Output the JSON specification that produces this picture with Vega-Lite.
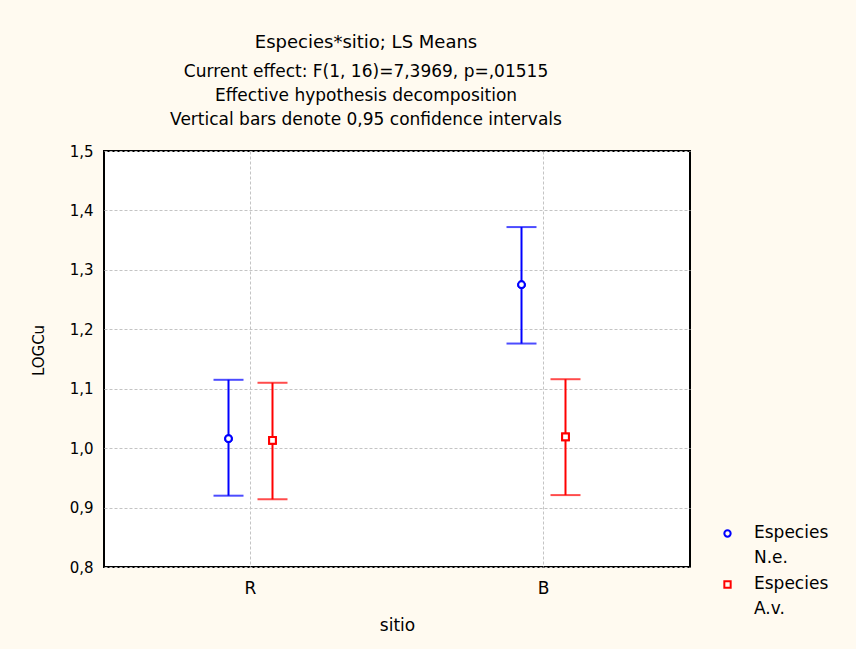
{
  "$schema": "https://vega.github.io/schema/vega-lite/v6.json",
  "width": 586,
  "height": 416,
  "autosize": {"type": "none"},
  "padding": {"left": 104, "top": 151, "right": 166, "bottom": 82},
  "background": "#FFFAF0",
  "title": {
    "text": "Especies*sitio; LS Means",
    "subtitle": ["Current effect: F(1, 16)=7,3969, p=,01515", "Effective hypothesis decomposition", "Vertical bars denote 0,95 confidence intervals"],
    "anchor": "middle",
    "frame": "group",
    "dx": -31,
    "offset": 16,
    "font": "DejaVu Sans",
    "fontSize": 18,
    "fontWeight": "normal",
    "color": "#000000",
    "subtitleFont": "DejaVu Sans",
    "subtitleFontSize": 17,
    "subtitleColor": "#000000",
    "subtitleLineHeight": 24,
    "subtitlePadding": 12
  },
  "data": {
    "values": [
      {"sitio": "R", "especie": "N.e.", "mean": 1.016, "low": 0.920, "high": 1.115},
      {"sitio": "R", "especie": "A.v.", "mean": 1.013, "low": 0.914, "high": 1.110},
      {"sitio": "B", "especie": "N.e.", "mean": 1.275, "low": 1.176, "high": 1.372},
      {"sitio": "B", "especie": "A.v.", "mean": 1.019, "low": 0.921, "high": 1.116}
    ]
  },
  "encoding": {
    "x": {
      "field": "sitio", "type": "nominal", "sort": ["R", "B"],
      "scale": {"type": "band", "paddingInner": 0, "paddingOuter": 0},
      "axis": {
        "title": "sitio", "labelAngle": 0, "ticks": false, "domain": false,
        "labelPadding": 13, "bandPosition": 0.5, "labelFontSize": 17,
        "titleY": 58, "titleBaseline": "middle", "titleFontSize": 17
      }
    },
    "xOffset": {
      "field": "especie", "type": "nominal",
      "scale": {"domain": ["p1", "p2", "N.e.", "A.v.", "p3", "p4"], "paddingInner": 0, "paddingOuter": 0.33}
    },
    "color": {
      "field": "especie", "type": "nominal",
      "scale": {"domain": ["N.e.", "A.v."], "range": ["#0000FF", "#FF0000"]},
      "legend": {
        "title": null, "orient": "none", "legendX": 615, "legendY": 374,
        "labelExpr": "['Especies', datum.label]",
        "symbolFillColor": "#FFFAF0",
        "encode": {
          "labels": {"update": {"dy": {"value": -9}, "lineHeight": {"value": 25}}},
          "symbols": {"update": {"fillOpacity": {"value": 0}, "strokeOpacity": {"value": 1}}}
        }
      }
    }
  },
  "layer": [
    {
      "mark": {"type": "point", "filled": false, "strokeWidth": 2, "size": 45, "opacity": 1},
      "encoding": {
        "y": {
          "field": "mean", "type": "quantitative",
          "scale": {"domain": [0.8, 1.5], "nice": false, "zero": false},
          "axis": {
            "title": "LOGCu", "values": [0.8, 0.9, 1.0, 1.1, 1.2, 1.3, 1.4, 1.5],
            "labelExpr": "replace(format(datum.value, '.1f'), '.', ',')",
            "ticks": false, "domain": false, "labelPadding": 11, "labelFontSize": 15,
            "titleX": -66, "titleY": 199, "titleBaseline": "middle", "titleAngle": -90, "titleFontSize": 15
          }
        },
        "shape": {
          "field": "especie", "type": "nominal",
          "scale": {"domain": ["N.e.", "A.v."], "range": ["circle", "square"]},
          "legend": {
            "title": null, "orient": "none", "legendX": 615, "legendY": 374,
            "labelExpr": "['Especies', datum.label]",
            "symbolFillColor": "#FFFAF0",
            "encode": {
              "labels": {"update": {"dy": {"value": -9}, "lineHeight": {"value": 25}}},
              "symbols": {"update": {"fillOpacity": {"value": 0}, "strokeOpacity": {"value": 1}}}
            }
          }
        }
      }
    },
    {
      "mark": {"type": "rule", "strokeWidth": 2},
      "encoding": {
        "y": {"field": "low", "type": "quantitative"},
        "y2": {"field": "high"}
      }
    },
    {
      "mark": {"type": "tick", "thickness": 2, "size": 30},
      "encoding": {"y": {"field": "low", "type": "quantitative"}}
    },
    {
      "mark": {"type": "tick", "thickness": 2, "size": 30},
      "encoding": {"y": {"field": "high", "type": "quantitative"}}
    },
    {
      "mark": {"type": "point", "filled": false, "fill": "#FFFFFF", "strokeWidth": 2, "size": 45, "opacity": 1},
      "encoding": {
        "y": {"field": "mean", "type": "quantitative"},
        "shape": {"field": "especie", "type": "nominal"}
      }
    }
  ],
  "config": {
    "font": "DejaVu Sans",
    "view": {"stroke": "#000000", "strokeWidth": 2, "fill": "#FFFFFF"},
    "axis": {
      "labelFont": "DejaVu Sans", "labelColor": "#000000",
      "titleFont": "DejaVu Sans", "titleFontWeight": "normal", "titleColor": "#000000",
      "gridColor": "#C4C4C4", "gridDash": [3, 2], "gridWidth": 1, "grid": true
    },
    "legend": {
      "labelFont": "DejaVu Sans", "labelFontSize": 17, "labelColor": "#000000",
      "labelOffset": 18, "labelBaseline": "top",
      "symbolSize": 40, "symbolStrokeWidth": 2, "rowPadding": 8, "padding": 0
    }
  }
}
